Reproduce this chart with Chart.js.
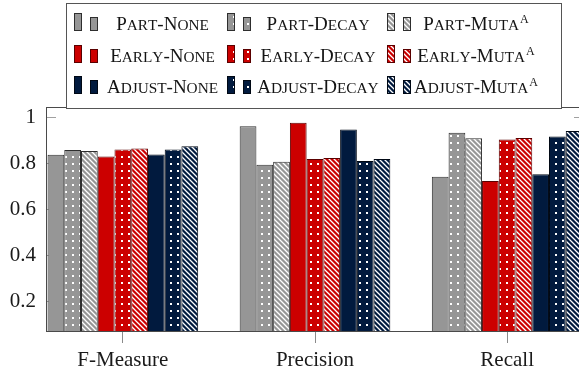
<!DOCTYPE html>
<html><head><meta charset="utf-8">
<script src="https://cdn.jsdelivr.net/npm/chart.js@4/dist/chart.umd.min.js"></script>
<style>
html,body{margin:0;padding:0;background:#fff;overflow:hidden;width:579px;height:374px}
#wrap{width:579px;height:374px;overflow:hidden;position:relative}
canvas{display:block}
</style></head><body><div id="wrap"><canvas id="c" width="584" height="374"></canvas></div>
<script>
const categories = ['F-Measure', 'Precision', 'Recall'];
const seriesNames = ['Part-None', 'Part-Decay', 'Part-Muta^A',
                     'Early-None', 'Early-Decay', 'Early-Muta^A',
                     'Adjust-None', 'Adjust-Decay', 'Adjust-Muta^A'];
const partNone    = [0.837, 0.961, 0.741];
const partDecay   = [0.858, 0.794, 0.933];
const partMuta    = [0.854, 0.807, 0.909];
const earlyNone   = [0.829, 0.976, 0.723];
const earlyDecay  = [0.860, 0.819, 0.904];
const earlyMuta   = [0.864, 0.823, 0.910];
const adjustNone  = [0.838, 0.947, 0.752];
const adjustDecay = [0.860, 0.810, 0.917];
const adjustMuta  = [0.874, 0.819, 0.941];
const yTicks = [0.2, 0.4, 0.6, 0.8, 1];

const FAM = "'Liberation Serif','Times New Roman',serif";
const fills   = {part: '#969696', early: '#cc0000', adjust: '#011a3e'};
const borders = {part: '#2e2e2e', early: '#5a0000', adjust: '#000814'};

function makePattern(color, kind) {
  const c = document.createElement('canvas');
  const g = c.getContext('2d');
  if (kind === 'none') return color;
  if (kind === 'dots') {
    c.width = c.height = 7;
    g.fillStyle = color; g.fillRect(0, 0, 7, 7);
    g.fillStyle = '#fff'; g.fillRect(2, 2, 2, 2);
  } else {
    const s = 5;
    c.width = c.height = s;
    g.fillStyle = color; g.fillRect(0, 0, s, s);
    g.strokeStyle = '#fff'; g.lineWidth = 1.3;
    g.beginPath();
    g.moveTo(-1, -1); g.lineTo(s + 1, s + 1);
    g.moveTo(-1, s - 1); g.lineTo(1, s + 1);
    g.moveTo(s - 1, -1); g.lineTo(s + 1, 1);
    g.stroke();
  }
  return g.createPattern(c, 'repeat');
}

const seriesValues = [partNone, partDecay, partMuta, earlyNone, earlyDecay, earlyMuta, adjustNone, adjustDecay, adjustMuta];
const groups = ['part', 'early', 'adjust'];
const kinds = ['none', 'dots', 'lines'];

const datasets = seriesValues.map((vals, i) => {
  const grp = groups[Math.floor(i / 3)];
  const kind = kinds[i % 3];
  return {
    label: seriesNames[i],
    data: vals.map((v, j) => ({x: j, y: v})),
    backgroundColor: makePattern(fills[grp], kind),
    borderColor: borders[grp],
    borderWidth: 1,
    categoryPercentage: 0.784,
    barPercentage: 1.0
  };
});

const framePlugin = {
  id: 'frame',
  beforeDatasetsDraw(chart) {
    const {ctx, chartArea: a, scales} = chart;
    ctx.save();
    ctx.strokeStyle = '#a0a0a0'; ctx.lineWidth = 1;
    ctx.beginPath();
    yTicks.forEach(v => {
      const y = Math.round(scales.y.getPixelForValue(v)) + 0.5;
      ctx.moveTo(a.left, y); ctx.lineTo(a.left + 10, y);
      ctx.moveTo(a.right, y); ctx.lineTo(a.right - 10, y);
    });
    ctx.stroke();
    ctx.strokeStyle = '#4a4a4a'; ctx.lineWidth = 1;
    ctx.strokeRect(Math.round(a.left) + 0.5, Math.round(a.top) + 0.5,
                   Math.round(a.right - a.left) - 1, Math.round(a.bottom - a.top));
    ctx.restore();
  },
  afterDraw(chart) {
    const ctx = chart.ctx;
    ctx.save();
    ctx.fillStyle = '#fff';
    ctx.fillRect(66.5, 3.5, 495, 105);
    ctx.strokeStyle = '#555'; ctx.lineWidth = 1;
    ctx.strokeRect(66.5, 3.5, 495, 105);
    const colIcon = [74, 227, 387];
    const colCenter = [162.5, 318, 476];
    const rowBottom = [31, 63, 94];
    chart.data.datasets.forEach((ds, i) => {
      const r = Math.floor(i / 3), c = i % 3;
      const ix = colIcon[c], b = rowBottom[r];
      ctx.fillStyle = ds.backgroundColor;
      ctx.strokeStyle = ds.borderColor;
      ctx.lineWidth = 1;
      ctx.fillRect(ix, b - 18, 8, 18); ctx.strokeRect(ix + 0.5, b - 17.5, 7, 17);
      ctx.fillRect(ix + 16, b - 14, 8, 14); ctx.strokeRect(ix + 16.5, b - 13.5, 7, 13);
      drawSC(ctx, ds.label, colCenter[c], b - 1);
    });
    ctx.restore();
  }
};

function drawSC(ctx, name, cx, baseline) {
  const big = 19, small = 15.3, sup = 12;
  let main = name, supText = '';
  const k = name.indexOf('^');
  if (k >= 0) { main = name.slice(0, k); supText = name.slice(k + 1); }
  const segs = [];
  for (const ch of main) {
    const lower = ch >= 'a' && ch <= 'z';
    segs.push({t: ch.toUpperCase(), size: lower ? small : big});
  }
  let w = 0;
  segs.forEach(s => { ctx.font = s.size + 'px ' + FAM; s.w = ctx.measureText(s.t).width; w += s.w; });
  let supW = 0;
  if (supText) { ctx.font = sup + 'px ' + FAM; supW = ctx.measureText(supText).width + 1; }
  let x = cx - (w + supW) / 2;
  ctx.fillStyle = '#141414';
  ctx.textAlign = 'left'; ctx.textBaseline = 'alphabetic';
  segs.forEach(s => { ctx.font = s.size + 'px ' + FAM; ctx.fillText(s.t, x, baseline); x += s.w; });
  if (supText) { ctx.font = sup + 'px ' + FAM; ctx.fillText(supText, x + 1, baseline - 7); }
}

new Chart(document.getElementById('c'), {
  type: 'bar',
  data: {datasets},
  plugins: [framePlugin],
  options: {
    responsive: false,
    animation: false,
    events: [],
    layout: {padding: {top: 107, right: 0, left: 0, bottom: 0}},
    plugins: {legend: {display: false}, tooltip: {enabled: false}},
    scales: {
      x: {
        type: 'linear', min: -0.4, max: 2.4, offset: false,
        afterBuildTicks(s) { s.ticks = categories.map((_, i) => ({value: i})); },
        afterFit(s) { s.height = 43; },
        ticks: {
          callback: (v) => categories[v] ?? '',
          font: {family: FAM, size: 21}, color: '#1a1a1a', padding: 5, maxRotation: 0, autoSkip: false
        },
        grid: {display: true, offset: false, drawOnChartArea: false, drawTicks: true, tickLength: 12, color: '#8a8a8a', lineWidth: 1},
        border: {display: false}
      },
      y: {
        min: 0.07, max: 1.045,
        afterBuildTicks(s) { s.ticks = yTicks.map(v => ({value: v})); },
        afterFit(s) { s.width = 46; },
        ticks: {
          callback: (v) => String(v),
          font: {family: FAM, size: 21}, color: '#1a1a1a', padding: 10
        },
        grid: {display: false, drawTicks: false},
        border: {display: false}
      }
    }
  }
});
</script></body></html>
